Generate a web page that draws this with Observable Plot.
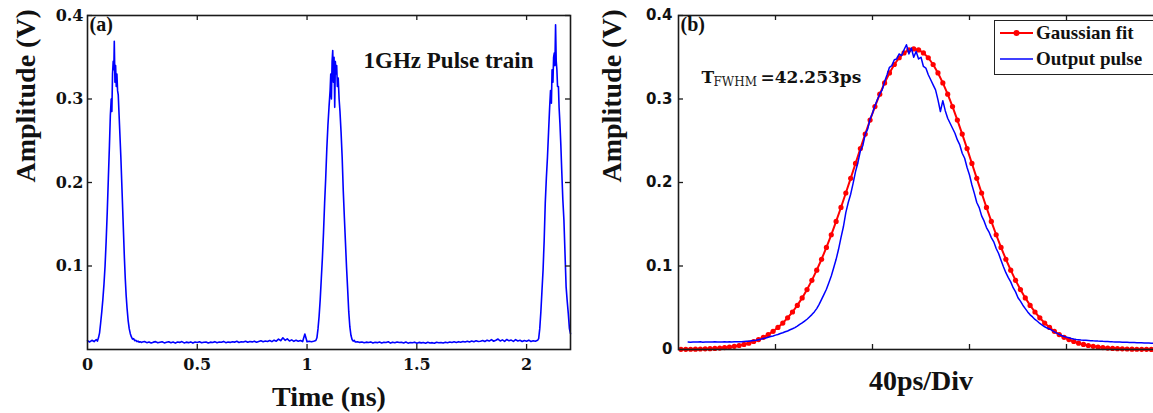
<!DOCTYPE html>
<html><head><meta charset="utf-8">
<script src="https://cdn.jsdelivr.net/npm/d3@7"></script>
<script src="https://cdn.jsdelivr.net/npm/@observablehq/plot@0.6"></script>
<style>
html,body{margin:0;padding:0;background:#fff;overflow:hidden;}
#wrap{position:relative;width:1153px;height:413px;overflow:hidden;background:#fff;}
#pa{position:absolute;left:0;top:0;width:576px;height:413px;}
#pb{position:absolute;left:576px;top:0;width:600px;height:413px;}
#wrap svg{max-width:none !important;display:block;}
#legend{position:absolute;left:994px;top:20px;width:175px;height:53px;border:1.5px solid #222;background:#fff;
  font-family:"Liberation Serif","Times New Roman",serif;font-weight:bold;font-size:19px;color:#111;}
#legend .row{position:absolute;left:0;height:22px;line-height:22px;white-space:nowrap;}
#legend svg{position:absolute;left:5px;top:5px;}
#legend span{position:absolute;left:41px;top:0;}
</style>
</head><body>
<div id="wrap">
  <div id="pa"></div>
  <div id="pb"></div>
  <div id="legend">
    <div class="row" style="top:1px"><svg width="34" height="12"><line x1="0" y1="6" x2="33" y2="6" stroke="#ff0000" stroke-width="2"/><circle cx="16.5" cy="6" r="3" fill="#ff0000"/></svg><span>Gaussian fit</span></div>
    <div class="row" style="top:27px"><svg width="34" height="12"><line x1="0" y1="6" x2="33" y2="6" stroke="#0000ff" stroke-width="1.5"/></svg><span>Output pulse</span></div>
  </div>
</div>
<script>
// ---------- Panel (a): 1 GHz pulse train (time in ns, amplitude in V) ----------
const p1T = [0,0.01,0.02,0.03,0.04,0.045,0.05,0.055,0.06,0.065,0.07,0.075,0.08,0.085,0.09,0.095,0.1,0.104,0.108,0.111,0.114,0.117,0.12,0.122,0.125,0.128,0.131,0.134,0.137,0.14,0.144,0.148,0.152,0.156,0.16,0.164,0.168,0.172,0.176,0.18,0.185,0.19,0.195,0.2,0.205,0.21,0.215,0.22,0.225,0.23,0.235,0.24,0.245,0.25];
const p1V = [0.0105,0.009,0.011,0.0095,0.012,0.01,0.014,0.02,0.032,0.045,0.06,0.078,0.1,0.13,0.165,0.205,0.245,0.28,0.3,0.285,0.33,0.345,0.335,0.369,0.32,0.34,0.315,0.33,0.31,0.305,0.28,0.255,0.23,0.2,0.17,0.14,0.11,0.085,0.065,0.05,0.035,0.025,0.019,0.015,0.0125,0.013,0.0105,0.011,0.0095,0.01,0.0088,0.0092,0.0085,0.009];
// baseline 0.26 .. 1.04 ns, 0.01 ns apart
const base1Start = 0.26;
const base1V = [0.0095,0.0082,0.0090,0.0078,0.0088,0.0094,0.0080,0.0086,0.0092,0.0079,
  0.0087,0.0093,0.0081,0.0089,0.0076,0.0090,0.0085,0.0095,0.0079,0.0088,
  0.0082,0.0091,0.0077,0.0089,0.0084,0.0093,0.0080,0.0087,0.0090,0.0078,
  0.0088,0.0083,0.0094,0.0081,0.0089,0.0086,0.0097,0.0082,0.0090,0.0085,
  0.0093,0.0088,0.0098,0.0084,0.0092,0.0089,0.0099,0.0086,0.0095,0.0091,
  0.0100,0.0088,0.0096,0.0104,0.0092,0.0101,0.0095,0.0108,0.0094,0.0112,
  0.0100,0.0125,0.0105,0.0140,0.0110,0.0128,0.0102,0.0115,0.0098,0.0112,
  0.0100,0.0108,0.0095,0.0185,0.0092,0.0098,0.0093,0.0100,0.0108];
const p2T = [1.045,1.05,1.055,1.06,1.065,1.07,1.075,1.08,1.085,1.09,1.095,1.1,1.105,1.108,1.111,1.114,1.117,1.12,1.123,1.126,1.129,1.132,1.135,1.138,1.142,1.146,1.15,1.155,1.16,1.165,1.17,1.175,1.18,1.185,1.19,1.195,1.2,1.205,1.21,1.215,1.22];
const p2V = [0.014,0.025,0.04,0.06,0.085,0.11,0.14,0.175,0.205,0.24,0.268,0.29,0.31,0.33,0.3,0.345,0.358,0.32,0.35,0.29,0.345,0.33,0.34,0.315,0.325,0.3,0.285,0.26,0.23,0.19,0.158,0.128,0.098,0.072,0.045,0.027,0.017,0.012,0.01,0.011,0.009];
// baseline 1.23 .. 2.05 ns, 0.01 ns apart
const base2Start = 1.23;
const base2V = [0.0092,0.0085,0.0090,0.0080,0.0088,0.0083,0.0091,0.0078,0.0086,0.0082,
  0.0089,0.0079,0.0087,0.0084,0.0092,0.0077,0.0088,0.0081,0.0090,0.0083,
  0.0086,0.0079,0.0089,0.0076,0.0084,0.0081,0.0088,0.0075,0.0085,0.0079,
  0.0083,0.0076,0.0087,0.0078,0.0082,0.0074,0.0086,0.0080,0.0084,0.0077,
  0.0088,0.0081,0.0090,0.0083,0.0092,0.0085,0.0094,0.0087,0.0096,0.0089,
  0.0098,0.0090,0.0101,0.0093,0.0104,0.0095,0.0099,0.0108,0.0096,0.0112,
  0.0101,0.0118,0.0099,0.0110,0.0125,0.0102,0.0115,0.0098,0.0120,0.0104,
  0.0113,0.0097,0.0118,0.0102,0.0110,0.0095,0.0108,0.0100,0.0112,0.0096,
  0.0105,0.0098,0.0110];
const p3T = [2.055,2.06,2.065,2.07,2.075,2.08,2.085,2.09,2.095,2.1,2.105,2.109,2.113,2.116,2.12,2.123,2.126,2.129,2.132,2.135,2.138,2.141,2.145,2.148,2.152,2.156,2.16,2.165,2.17,2.175,2.18,2.185,2.19,2.195,2.2];
const p3V = [0.013,0.025,0.045,0.07,0.095,0.13,0.175,0.205,0.23,0.26,0.29,0.31,0.295,0.335,0.32,0.35,0.355,0.34,0.389,0.345,0.335,0.315,0.315,0.29,0.27,0.245,0.215,0.18,0.155,0.115,0.075,0.058,0.043,0.025,0.019];

const aXTickLabels = [0, 0.5, 1, 1.5, 2];
const aXTicks = [0.5, 1, 1.5, 2];
const aYTicks = [0.1, 0.2, 0.3, 0.4];

// ---------- Panel (b): single pulse (time in ps, 40 ps per division) ----------
const blueStart = 4;   // ps, samples 1 ps apart
const blueV = [0.0090,0.0088,0.0091,0.0089,0.0090,0.0092,0.0088,0.0090,0.0091,0.0089,
  0.0090,0.0092,0.0089,0.0091,0.0090,0.0093,0.0090,0.0092,0.0091,0.0093,
  0.0092,0.0094,0.0093,0.0096,0.0098,0.0100,0.0104,0.0108,0.0112,0.0118,
  0.0124,0.0132,0.0138,0.0147,0.0155,0.0162,0.0172,0.0180,0.0192,0.0200,
  0.0212,0.0222,0.0236,0.0248,0.0262,0.0280,0.0300,0.0318,0.0340,0.0362,
  0.0390,0.0418,0.0450,0.0490,0.0540,0.0600,0.0660,0.0722,0.0800,0.0880,
  0.0980,0.1080,0.1200,0.1340,0.1470,0.1640,0.1760,0.1860,0.1990,0.2130,
  0.2240,0.2380,0.2440,0.2580,0.2640,0.2760,0.2830,0.2920,0.2990,0.3060,
  0.3110,0.3210,0.3290,0.3380,0.3400,0.3470,0.3480,0.3540,0.3520,0.3590,
  0.3650,0.3540,0.3610,0.3500,0.3570,0.3480,0.3500,0.3390,0.3370,0.3290,
  0.3230,0.3170,0.3110,0.2990,0.2850,0.2980,0.2860,0.2770,0.2710,0.2650,
  0.2590,0.2510,0.2450,0.2350,0.2290,0.2180,0.2090,0.1970,0.1870,0.1760,
  0.1700,0.1600,0.1540,0.1460,0.1410,0.1340,0.1290,0.1210,0.1150,0.1070,
  0.0990,0.0920,0.0860,0.0810,0.0740,0.0690,0.0620,0.0580,0.0530,0.0490,
  0.0450,0.0415,0.0390,0.0360,0.0338,0.0312,0.0292,0.0272,0.0258,0.0246,
  0.0230,0.0212,0.0196,0.0182,0.0168,0.0156,0.0148,0.0140,0.0132,0.0126,
  0.0121,0.0118,0.0114,0.0112,0.0110,0.0108,0.0106,0.0104,0.0103,0.0101,
  0.0100,0.0098,0.0097,0.0096,0.0094,0.0092,0.0091,0.0090,0.0089,0.0088,
  0.0087,0.0086,0.0085,0.0084,0.0083,0.0082,0.0081,0.0080,0.0079,0.0078,
  0.0077,0.0076,0.0076];
const fitStart = 1;    // ps, fit markers 2 ps apart
const fitV = [0.0002,0.0002,0.0003,0.0004,0.0006,0.0008,0.0010,0.0013,0.0017,0.0023,
  0.0029,0.0038,0.0048,0.0061,0.0076,0.0096,0.0119,0.0146,0.0179,0.0218,
  0.0264,0.0317,0.0379,0.0449,0.0528,0.0618,0.0718,0.0828,0.0950,0.1081,
  0.1223,0.1374,0.1534,0.1701,0.1874,0.2050,0.2228,0.2406,0.2580,0.2748,
  0.2909,0.3058,0.3193,0.3312,0.3413,0.3494,0.3552,0.3588,0.3600,0.3588,
  0.3552,0.3494,0.3413,0.3312,0.3193,0.3058,0.2909,0.2748,0.2580,0.2406,
  0.2228,0.2050,0.1874,0.1701,0.1534,0.1374,0.1223,0.1081,0.0950,0.0828,
  0.0718,0.0618,0.0528,0.0449,0.0379,0.0317,0.0264,0.0218,0.0179,0.0146,
  0.0119,0.0096,0.0076,0.0061,0.0048,0.0038,0.0029,0.0023,0.0017,0.0013,
  0.0010,0.0008,0.0006,0.0004,0.0003,0.0002,0.0002,0.0001];
const bXTicks = [40, 80, 120, 160];
const bYTicks = [0, 0.1, 0.2, 0.3, 0.4];

// ---------- build tables ----------
const aData = [
  ...p1T.map((t, i) => ({t, v: p1V[i]})),
  ...base1V.map((v, i) => ({t: base1Start + i * 0.01, v})),
  ...p2T.map((t, i) => ({t, v: p2V[i]})),
  ...base2V.map((v, i) => ({t: base2Start + i * 0.01, v})),
  ...p3T.map((t, i) => ({t, v: p3V[i]}))
];
const blueData = blueV.map((v, i) => ({t: blueStart + i, v}));
const fitData = fitV.map((v, i) => ({t: fitStart + 2 * i, v}));

const serif = "'Liberation Serif','Times New Roman',serif";
const wideSerif = "'DejaVu Serif',serif";
const wideSans = "'DejaVu Sans',sans-serif";
const ink = "#1a1a1a";
const fmt = d => String(d);
const style = {background: "transparent", color: "#111", maxWidth: "none", overflow: "visible"};

// frame sizes: (a) 483 x 334, (b) 485 x 334
const plotA = Plot.plot({
  width: 576, height: 413,
  marginLeft: 87, marginRight: 6, marginTop: 15, marginBottom: 64,
  x: {domain: [0, 2.2]},
  y: {domain: [0, 0.4]},
  style,
  marks: [
    Plot.line(aData, {x: "t", y: "v", stroke: "#0000ff", strokeWidth: 1.6}),
    Plot.frame({stroke: ink, strokeWidth: 1.6}),
    Plot.tickX(aXTicks, {x: d => d, insetTop: 329, stroke: ink, strokeWidth: 1.3}),
    Plot.tickX(aXTicks, {x: d => d, insetBottom: 329, stroke: ink, strokeWidth: 1.3}),
    Plot.tickY(aYTicks, {y: d => d, insetRight: 478, stroke: ink, strokeWidth: 1.3}),
    Plot.tickY(aYTicks, {y: d => d, insetLeft: 478, stroke: ink, strokeWidth: 1.3}),
    Plot.axisX({ticks: aXTickLabels, tickFormat: fmt, tickSize: 0, tickPadding: 9, label: null,
      fontFamily: wideSerif, fontWeight: "bold", fontSize: 16}),
    Plot.axisY({ticks: aYTicks, tickFormat: fmt, tickSize: 0, tickPadding: 4, label: null,
      fontFamily: wideSerif, fontWeight: "bold", fontSize: 16}),
    Plot.text(["Time (ns)"], {text: d => d, frameAnchor: "bottom", dy: 56,
      fontFamily: serif, fontWeight: "bold", fontSize: 28, fill: "#111"}),
    Plot.text(["Amplitude (V)"], {text: d => d, frameAnchor: "left", dx: -61, rotate: -90,
      fontFamily: serif, fontWeight: "bold", fontSize: 28, fill: "#111"}),
    Plot.text(["(a)"], {text: d => d, frameAnchor: "top-left", textAnchor: "start", lineAnchor: "bottom",
      dx: 2, dy: 15, fontFamily: serif, fontWeight: "bold", fontSize: 20, fill: "#111"}),
    Plot.text(["1GHz Pulse train"], {text: d => d, frameAnchor: "top-right", textAnchor: "end", lineAnchor: "bottom",
      dx: -37, dy: 52, fontFamily: serif, fontWeight: "bold", fontSize: 23, fill: "#111"})
  ]
});
document.getElementById("pa").append(plotA);

const plotB = Plot.plot({
  width: 600, height: 413,
  marginLeft: 102, marginRight: 13, marginTop: 15, marginBottom: 64,
  x: {domain: [0, 200], axis: null},
  y: {domain: [0, 0.4]},
  style,
  marks: [
    Plot.line(fitData, {x: "t", y: "v", stroke: "#ff0000", strokeWidth: 2}),
    Plot.dot(fitData, {x: "t", y: "v", r: 2.6, fill: "#ff0000", stroke: "none"}),
    Plot.line(blueData, {x: "t", y: "v", stroke: "#0000ff", strokeWidth: 1.5}),
    Plot.frame({stroke: ink, strokeWidth: 1.6}),
    Plot.tickX(bXTicks, {x: d => d, insetTop: 329, stroke: ink, strokeWidth: 1.3}),
    Plot.tickX(bXTicks, {x: d => d, insetBottom: 329, stroke: ink, strokeWidth: 1.3}),
    Plot.tickY(bYTicks.slice(1), {y: d => d, insetRight: 480, stroke: ink, strokeWidth: 1.3}),
    Plot.axisY({ticks: bYTicks, tickFormat: fmt, tickSize: 0, tickPadding: 6, label: null,
      fontFamily: wideSans, fontWeight: "bold", fontSize: 15}),
    Plot.text(["40ps/Div"], {text: d => d, frameAnchor: "bottom", dy: 40,
      fontFamily: serif, fontWeight: "bold", fontSize: 28, fill: "#111"}),
    Plot.text(["Amplitude (V)"], {text: d => d, frameAnchor: "left", dx: -66, rotate: -90,
      fontFamily: serif, fontWeight: "bold", fontSize: 28, fill: "#111"}),
    Plot.text(["(b)"], {text: d => d, frameAnchor: "top-left", textAnchor: "start", lineAnchor: "bottom",
      dx: 2, dy: 15, fontFamily: serif, fontWeight: "bold", fontSize: 20, fill: "#111"}),
    Plot.text(["T"], {text: d => d, frameAnchor: "top-left", textAnchor: "start", lineAnchor: "bottom",
      dx: 23, dy: 67, fontFamily: wideSerif, fontWeight: "bold", fontSize: 17, fill: "#111"}),
    Plot.text(["FWHM"], {text: d => d, frameAnchor: "top-left", textAnchor: "start", lineAnchor: "bottom",
      dx: 35, dy: 70, fontFamily: wideSerif, fontWeight: "normal", fontSize: 12, fill: "#222"}),
    Plot.text(["=42.253ps"], {text: d => d, frameAnchor: "top-left", textAnchor: "start", lineAnchor: "bottom",
      dx: 82, dy: 67, fontFamily: wideSerif, fontWeight: "bold", fontSize: 17, fill: "#111"})
  ]
});
document.getElementById("pb").append(plotB);
</script>
</body></html>
